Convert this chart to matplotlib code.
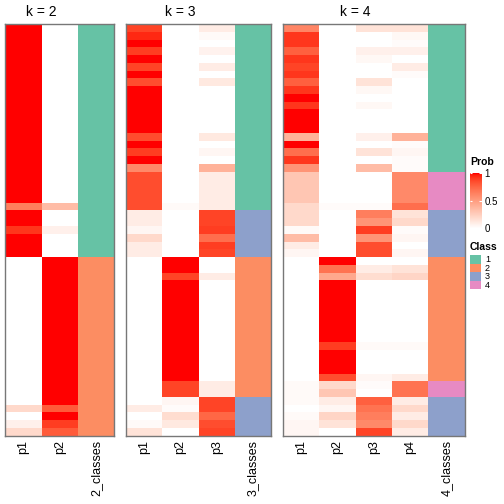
import numpy as np
import matplotlib
matplotlib.use("Agg")
import matplotlib.pyplot as plt
from matplotlib.colors import ListedColormap, BoundaryNorm, LinearSegmentedColormap
from matplotlib.patches import Rectangle

plt.rcParams['font.family'] = ['Liberation Sans', 'DejaVu Sans']

# membership probabilities, 53 samples, read top to bottom
k2_p1 = [1]*23 + [0.65, 1, 1, 0.92, 1, 1, 1] + [0]*19 + [0.2, 0, 0.08, 0.2]
k2_p2 = [0]*23 + [0.35, 0, 0, 0.08, 0, 0, 0] + [1]*19 + [0.8, 1, 0.9, 0.8]
k2_class = [1]*30 + [2]*23

k3_p1 = [0.88, 0.95, 1, 0.9, 1, 0.88, 1, 0.85, 1, 1, 1, 1, 1, 1, 0.85, 1, 0.9, 1,
         0.6, 0.85, 0.85, 0.85, 0.85, 0.85, 0.1, 0.1, 0.05, 0.2, 0.1, 0.1] \
        + [0]*18 + [0, 0.1, 0, 0.03, 0.15]
k3_p2 = [0]*23 + [0.03] + [0]*6 + [1, 1, 0.88] + [1]*13 + [0.88, 0.88] \
        + [0.05, 0.02, 0.18, 0.12, 0]
k3_p3 = [0.1, 0.03, 0, 0.07, 0, 0.1, 0, 0.12, 0, 0, 0, 0, 0, 0, 0.12, 0, 0.05, 0,
         0.4, 0.1, 0.1, 0.1, 0.1, 0.1, 0.88, 0.88, 0.9, 0.72, 0.9, 0.88] \
        + [0, 0, 0.1] + [0]*13 + [0.1, 0.1] + [0.88, 0.88, 0.75, 0.85, 0.88]
k3_class = [1]*24 + [3]*6 + [2]*18 + [3]*5

k4_p1 = [0.62, 0.92, 0.92, 0.78, 0.92, 0.88, 0.92, 0.78, 0.92, 1,
         0.92, 1, 1, 1, 0.4, 1, 0.72, 0.92, 0.55, 0.3,
         0.3, 0.3, 0.3, 0.2, 0.2, 0.2, 0.03, 0.35, 0.1, 0.05] \
        + [0]*16 + [0.03, 0.03, 0.03, 0, 0.03, 0.05, 0.05]
k4_p2 = [0]*23 + [0.02] + [0]*6 + [1, 0.7, 0.45] + [1]*8 + [0.9] + [1]*3 + [0.85] \
        + [0.2, 0.3, 0.1, 0.05, 0.22, 0.15, 0]
k4_p3 = [0.15, 0, 0, 0.08, 0.04, 0, 0, 0.15, 0.04, 0,
         0.04, 0, 0, 0, 0.08, 0, 0.15, 0, 0.35, 0,
         0, 0, 0, 0.02, 0.65, 0.55, 0.9, 0.55, 0.85, 0.85] \
        + [0, 0.1, 0.18] + [0]*8 + [0.03] + [0]*3 + [0.05] \
        + [0.02, 0, 0.78, 0.7, 0.65, 0.6, 0.88]
k4_p4 = [0.15, 0.04, 0.02, 0.08, 0, 0.1, 0.02, 0, 0, 0,
         0, 0, 0, 0, 0.4, 0.02, 0.05, 0.02, 0.02, 0.6,
         0.6, 0.6, 0.6, 0.72, 0.15, 0.2, 0.02, 0.05, 0, 0.05] \
        + [0, 0.15, 0.22] + [0]*8 + [0.03] + [0]*3 + [0.1] \
        + [0.7, 0.7, 0.1, 0.2, 0.1, 0.2, 0.1]
k4_class = [1]*19 + [4]*5 + [3]*6 + [2]*16 + [4]*2 + [3]*5

panels = [
    ("k = 2", [k2_p1, k2_p2], k2_class, "2_classes"),
    ("k = 3", [k3_p1, k3_p2, k3_p3], k3_class, "3_classes"),
    ("k = 4", [k4_p1, k4_p2, k4_p3, k4_p4], k4_class, "4_classes"),
]
class_colors = ["#66C2A5", "#FC8D62", "#8DA0CB", "#E78AC3"]


# white -> red ramp interpolated in LAB, like circlize::colorRamp2
def lab_ramp(n=256):
    t = np.linspace(0, 1, n)
    L = 100 + (53.24 - 100) * t
    a = 80.09 * t
    b = 67.20 * t
    fy = (L + 16) / 116
    fx = fy + a / 500
    fz = fy - b / 200
    def finv(f):
        return np.where(f**3 > 0.008856, f**3, (f - 16/116) / 7.787)
    X = 0.95047 * finv(fx); Y = finv(fy); Z = 1.08883 * finv(fz)
    r = 3.2406*X - 1.5372*Y - 0.4986*Z
    g = -0.9689*X + 1.8758*Y + 0.0415*Z
    bb = 0.0557*X - 0.2040*Y + 1.0570*Z
    rgb = np.clip(np.stack([r, g, bb], 1), 0, 1)
    rgb = np.where(rgb <= 0.0031308, 12.92*rgb, 1.055*rgb**(1/2.4) - 0.055)
    return LinearSegmentedColormap.from_list("prob", np.clip(rgb, 0, 1))

prob_cmap = lab_ramp()
cls_cmap = ListedColormap(class_colors)
cls_norm = BoundaryNorm([0.5, 1.5, 2.5, 3.5, 4.5], 4)

W = H = 504
fig = plt.figure(figsize=(5.04, 5.04), dpi=100)

lefts = [5.3, 125.7, 282.7]
colw = 36.4
top, bottom = 24.0, 435.7

for (title, probs, cls, cls_name), left in zip(panels, lefts):
    k = len(probs)
    ncol = k + 1
    wpx = ncol * colw
    ax = fig.add_axes([left / W, 1 - bottom / H, wpx / W, (bottom - top) / H])
    nrow = len(cls)
    mat = np.array(probs).T
    ax.pcolormesh(np.arange(k + 1), np.arange(nrow + 1), mat,
                  cmap=prob_cmap, vmin=0, vmax=1)
    ax.pcolormesh([k, k + 1], np.arange(nrow + 1), np.array(cls)[:, None],
                  cmap=cls_cmap, norm=cls_norm)
    ax.set_xlim(0, ncol)
    ax.set_ylim(nrow, 0)
    ax.set_yticks([])
    ax.set_xticks(np.arange(ncol) + 0.5)
    ax.set_xticklabels(["p%d" % (i + 1) for i in range(k)] + [cls_name],
                       rotation=90, fontsize=9)
    ax.tick_params(axis='x', length=0, pad=3)
    for s in ax.spines.values():
        s.set_color("#777777")
        s.set_linewidth(1)
    fig.text((left + k * colw / 2) / W, 1 - 12.5 / H, title,
             ha='center', va='center', fontsize=10)

# legends
cax = fig.add_axes([470 / W, 1 - 228.5 / H, 11.5 / W, 55 / H])
sm = plt.cm.ScalarMappable(cmap=prob_cmap, norm=plt.Normalize(0, 1))
cb = fig.colorbar(sm, cax=cax, ticks=[0, 0.5, 1])
cb.outline.set_visible(False)
cb.ax.set_yticklabels(["0", "0.5", "1"], fontsize=7)
cb.ax.tick_params(length=0, pad=2)
for v in [0.5, 1]:
    cax.plot([0, 0.2], [v, v], color="white", lw=0.8, solid_capstyle='butt', clip_on=False)
    cax.plot([0.8, 1], [v, v], color="white", lw=0.8, solid_capstyle='butt', clip_on=False)
cax.set_xlim(0, 1)
fig.text(470 / W, 1 - 162 / H, "Prob", fontsize=7.5, fontweight='bold', va='center')

fig.text(470 / W, 1 - 247 / H, "Class", fontsize=7.5, fontweight='bold', va='center')
for i, c in enumerate(class_colors):
    y0 = 255.5 + i * 8.4
    fig.add_artist(Rectangle((470 / W, 1 - (y0 + 8.4) / H), 11 / W, 8.4 / H,
                             transform=fig.transFigure, facecolor=c, edgecolor='none'))
    fig.text(485 / W, 1 - (y0 + 4.4) / H, str(i + 1), fontsize=6.5, va='center')

fig.savefig("out.png", dpi=100, facecolor="white")
